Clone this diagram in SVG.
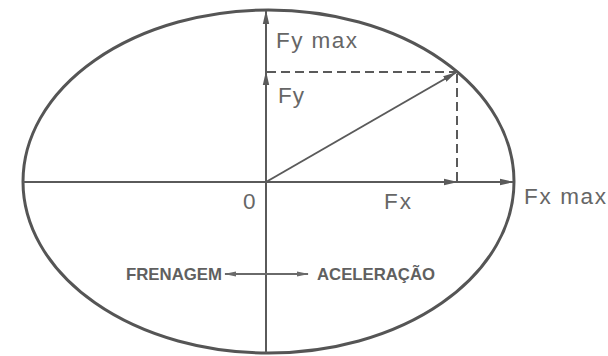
<svg xmlns="http://www.w3.org/2000/svg" width="608" height="356" viewBox="0 0 608 356">
<defs>
<style>
.ax{stroke:#5a5a5a;stroke-width:2;fill:none}
.ds{stroke:#5a5a5a;stroke-width:2;fill:none;stroke-dasharray:9,5}
.lbl{font-family:"Liberation Sans",Arial,sans-serif;font-size:22.5px;fill:#666}
.bl{font-family:"Liberation Sans",Arial,sans-serif;font-size:16.5px;font-weight:bold;fill:#606060}
</style>
<marker id="ah" viewBox="0 0 14 8" refX="13" refY="4" markerWidth="14" markerHeight="8" markerUnits="userSpaceOnUse" orient="auto">
<path d="M0,0.8 L14,4 L0,7.2 Z" fill="#5a5a5a"/>
</marker>
<marker id="ahs" viewBox="0 0 12 6" refX="11" refY="3" markerWidth="12" markerHeight="6" markerUnits="userSpaceOnUse" orient="auto-start-reverse">
<path d="M0,0.5 L12,3 L0,5.5 Z" fill="#6a6a6a"/>
</marker>
</defs>
<rect width="608" height="356" fill="#fff"/>
<g id="ellipse">
<ellipse cx="268.5" cy="181.5" rx="245.5" ry="171.5" fill="none" stroke="#555" stroke-width="3"/>
</g>
<g id="connectors">
<line class="ax" x1="23" y1="182" x2="457" y2="182" marker-end="url(#ah)"/>
<line class="ax" x1="457" y1="182" x2="513" y2="182" marker-end="url(#ah)"/>
<line class="ax" x1="266" y1="353" x2="266" y2="72" marker-end="url(#ah)"/>
<line class="ax" x1="266" y1="72" x2="266" y2="11" marker-end="url(#ah)"/>
<line class="ax" x1="266" y1="182" x2="456" y2="72.5" marker-end="url(#ah)"/>
<line class="ds" x1="267" y1="72" x2="457" y2="72"/>
<line class="ds" x1="457" y1="74" x2="457" y2="181"/>
<line x1="225" y1="274" x2="308" y2="274" stroke="#6a6a6a" stroke-width="2" marker-start="url(#ahs)" marker-end="url(#ahs)"/>
</g>
<g id="labels">
<text class="lbl" x="276" y="48" textLength="81" lengthAdjust="spacing">Fy max</text>
<text class="lbl" x="278" y="103" textLength="26" lengthAdjust="spacing">Fy</text>
<text class="lbl" x="243" y="209">0</text>
<text class="lbl" x="384" y="209" textLength="27" lengthAdjust="spacing">Fx</text>
<text class="lbl" x="524" y="204" textLength="82" lengthAdjust="spacing">Fx max</text>
<text class="bl" x="126" y="280" textLength="96" lengthAdjust="spacingAndGlyphs">FRENAGEM</text>
<text class="bl" x="317" y="280" textLength="118" lengthAdjust="spacingAndGlyphs">ACELERAÇÃO</text>
</g>
</svg>
